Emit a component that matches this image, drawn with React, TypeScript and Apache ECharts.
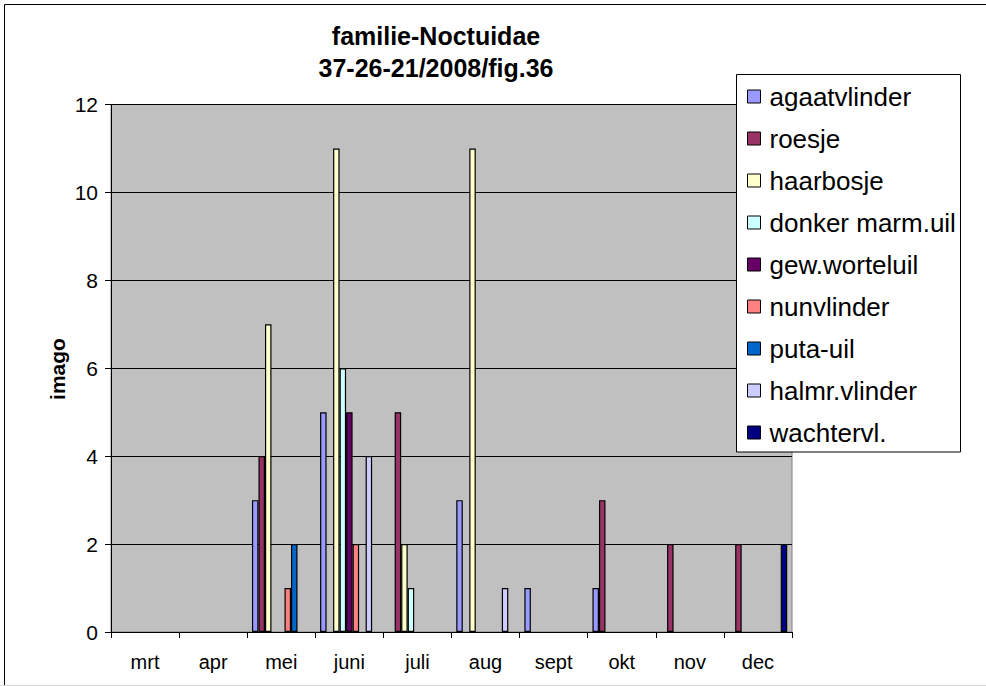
import React, { useEffect, useRef } from "react";
import * as echarts from "echarts";

const categories = ["mrt", "apr", "mei", "juni", "juli", "aug", "sept", "okt", "nov", "dec"];
const seriesNames = [
  "agaatvlinder",
  "roesje",
  "haarbosje",
  "donker marm.uil",
  "gew.worteluil",
  "nunvlinder",
  "puta-uil",
  "halmr.vlinder",
  "wachtervl.",
];
const agaatvlinder = [0, 0, 3, 5, 0, 3, 1, 1, 0, 0];
const roesje = [0, 0, 4, 0, 5, 0, 0, 3, 2, 2];
const haarbosje = [0, 0, 7, 11, 2, 11, 0, 0, 0, 0];
const donkerMarmUil = [0, 0, 0, 6, 1, 0, 0, 0, 0, 0];
const gewWorteluil = [0, 0, 0, 5, 0, 0, 0, 0, 0, 0];
const nunvlinder = [0, 0, 1, 2, 0, 0, 0, 0, 0, 0];
const putaUil = [0, 0, 2, 0, 0, 0, 0, 0, 0, 0];
const halmrVlinder = [0, 0, 0, 4, 0, 1, 0, 0, 0, 0];
const wachtervl = [0, 0, 0, 0, 0, 0, 0, 0, 0, 2];
const yTicks = { min: 0, max: 12, interval: 2 };
const titleLines = ["familie-Noctuidae", "37-26-21/2008/fig.36"];
const yName = "imago";

const seriesData = [
  agaatvlinder,
  roesje,
  haarbosje,
  donkerMarmUil,
  gewWorteluil,
  nunvlinder,
  putaUil,
  halmrVlinder,
  wachtervl,
];
const colors = ["#9999FF", "#993366", "#FFFFCC", "#CCFFFF", "#660066", "#FF8080", "#0066CC", "#CCCCFF", "#000080"];

const FONT = "'Liberation Sans', Arial, Helvetica, sans-serif";

export default function App() {
  const ref = useRef<HTMLDivElement>(null);
  useEffect(() => {
    document.body.style.margin = "0";
    const chart = echarts.init(ref.current!, undefined, { renderer: "svg" });
    const option: any = {
      animation: false,
      backgroundColor: "#ffffff",
      textStyle: { fontFamily: FONT },
      grid: {
        left: 111,
        top: 104.5,
        width: 681,
        height: 527.5,
        show: true,
        backgroundColor: "#C0C0C0",
        borderColor: "#808080",
        borderWidth: 1,
        containLabel: false,
      },
      xAxis: {
        type: "category",
        data: categories,
        boundaryGap: true,
        axisLine: { show: true, lineStyle: { color: "#000", width: 1 } },
        axisTick: { show: true, length: 6, lineStyle: { color: "#000" }, alignWithLabel: false },
        axisLabel: { color: "#000", fontSize: 20, fontFamily: FONT, margin: 20 },
        splitLine: { show: false },
      },
      yAxis: {
        type: "value",
        min: yTicks.min,
        max: yTicks.max,
        interval: yTicks.interval,
        axisLine: { show: true, lineStyle: { color: "#000", width: 1 } },
        axisTick: { show: true, length: 6, lineStyle: { color: "#000" } },
        axisLabel: { color: "#000", fontSize: 21, fontFamily: FONT, margin: 13 },
        splitLine: { show: true, lineStyle: { color: "#000", width: 1 } },
      },
      legend: {
        show: true,
        orient: "vertical",
        left: 747,
        top: 83.5,
        padding: 0,
        itemGap: 16,
        itemWidth: 13,
        itemHeight: 13,
        icon: "rect",
        z: 200,
        textStyle: { fontSize: 26, fontFamily: FONT, color: "#000", lineHeight: 25, padding: [0, 0, 0, 4] },
        itemStyle: { borderColor: "#000", borderWidth: 1 },
        data: seriesNames,
        selectedMode: false,
      },
      graphic: [
        {
          type: "rect",
          z: 100,
          shape: { x: 736.5, y: 74.5, width: 224, height: 377.5 },
          style: { fill: "#fff", stroke: "#000", lineWidth: 1 },
        },
        {
          type: "rect",
          z: -10,
          shape: { x: 4.5, y: 4.5, width: 1000, height: 690 },
          style: { fill: "none", stroke: "#000", lineWidth: 1 },
        },
        {
          type: "line",
          z: -10,
          shape: { x1: 0, y1: 685.5, x2: 986, y2: 685.5 },
          style: { stroke: "#d8d8d8", lineWidth: 1 },
        },
        {
          type: "text",
          z: 100,
          x: 436,
          y: 36,
          style: {
            text: titleLines[0],
            fontSize: 25,
            fontWeight: "bold",
            fontFamily: FONT,
            fill: "#000",
            align: "center",
            verticalAlign: "middle",
          },
        },
        {
          type: "text",
          z: 100,
          x: 436,
          y: 68,
          style: {
            text: titleLines[1],
            fontSize: 25,
            fontWeight: "bold",
            fontFamily: FONT,
            fill: "#000",
            align: "center",
            verticalAlign: "middle",
          },
        },
        {
          type: "text",
          z: 100,
          x: 57,
          y: 369,
          rotation: Math.PI / 2,
          style: {
            text: yName,
            fontSize: 21,
            fontWeight: "bold",
            fontFamily: FONT,
            fill: "#000",
            align: "center",
            verticalAlign: "middle",
          },
        },
      ],
      series: seriesNames.map((name, i) => ({
        name,
        type: "bar",
        data: seriesData[i].map((v) => (v === 0 ? null : v)),
        barGap: "0%",
        barCategoryGap: "14%",
        itemStyle: { color: colors[i], borderColor: "#000", borderWidth: 1.2 },
      })),
    };
    chart.setOption(option);
    return () => chart.dispose();
  }, []);
  return <div ref={ref} style={{ width: 986, height: 686, position: "absolute", left: 0, top: 0 }} />;
}
